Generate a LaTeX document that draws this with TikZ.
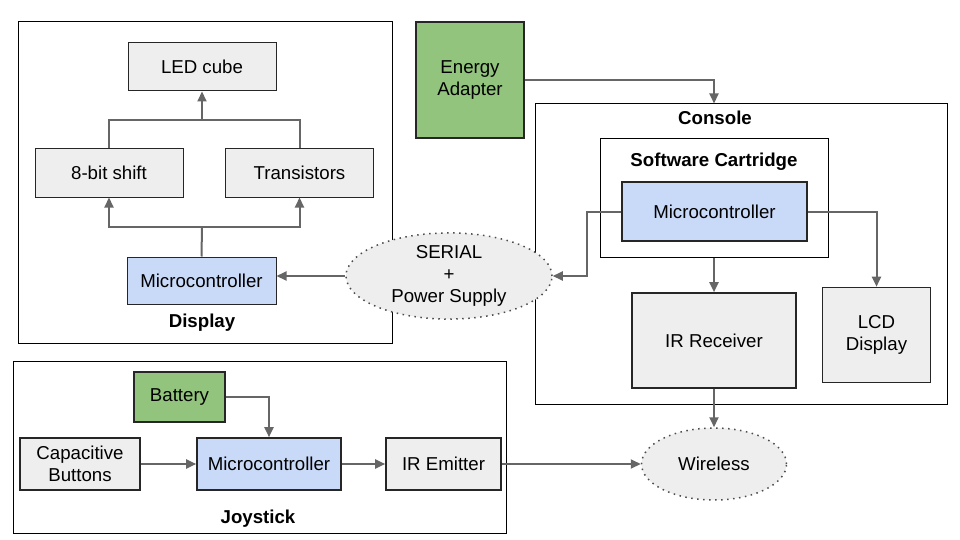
\documentclass[tikz,border=0pt]{standalone}
\usepackage{fontspec}
\setmainfont{Liberation Sans}
\usepackage{xcolor}
\usepackage{tikz}
\usetikzlibrary{arrows.meta,shapes.geometric,positioning}

\definecolor{partgray}{HTML}{EEEEEE}
\definecolor{mcublue}{HTML}{C9DAF8}
\definecolor{powergreen}{HTML}{93C47D}
\definecolor{wiregray}{HTML}{666666}

\tikzset{
  every node/.style = {font = \fontsize{18.67}{22}\selectfont},
  part/.style = {draw = black!85, line width = 1.6pt, fill = partgray, inner sep = 0pt, align = center},
  thinpart/.style = {part, line width = 1pt},
  group/.style = {draw = black, line width = 1pt, inner sep = 0pt},
  grouplabel/.style = {font = \fontsize{18.67}{22}\selectfont\bfseries},
  cloud/.style = {ellipse, draw = black!70, line width = 1.5pt, dash pattern = on 1.5pt off 4.5pt, fill = partgray, inner sep = 0pt, align = center},
  bus/.style = {draw = wiregray, line width = 2pt},
  wire/.style = {bus, -{Triangle[length = 10pt, width = 9pt]}},
}

\begin{document}
\begin{tikzpicture}[x = 1pt, y = -1pt]
    \useasboundingbox (0,0) rectangle (960,540);

    % display
    \node[group, minimum width = 374, minimum height = 321](display) at (205,182.5) {};
    \node[thinpart, minimum width = 148, minimum height = 48](led) at (202,67) {LED cube};
    \node[thinpart, minimum width = 148, minimum height = 48](shift) at (109,173) {8-bit shift};
    \node[thinpart, minimum width = 148, minimum height = 48](trans) at (299.5,173) {Transistors};
    \node[thinpart, fill = mcublue, minimum width = 149, minimum height = 47](dmcu) at (201.5,280.5) {Microcontroller};
    \node[grouplabel](displayLabel) at (202,323) {Display};

    % console
    \node[part, fill = powergreen, minimum width = 108, minimum height = 116](energy) at (470,80) {Energy\\Adapter};
    \node[group, minimum width = 412, minimum height = 300](console) at (741,254) {};
    \node[grouplabel](consoleLabel) at (715,118) {Console};
    \node[group, minimum width = 228, minimum height = 118](cart) at (714,198) {};
    \node[grouplabel](cartLabel) at (714,162) {Software Cartridge};
    \node[part, fill = mcublue, minimum width = 185, minimum height = 59](cmcu) at (714.5,211.5) {Microcontroller};
    \node[part, minimum width = 164, minimum height = 95](irrx) at (714,340.5) {IR Receiver};
    \node[part, minimum width = 108, minimum height = 95](lcd) at (876.5,335) {LCD\\Display};

    % links
    \node[cloud, minimum width = 206, minimum height = 82](serial) at (449,276) {SERIAL\\+\\Power Supply};
    \node[cloud, minimum width = 145, minimum height = 72](wireless) at (714,464) {Wireless};

    % joystick
    \node[group, minimum width = 493, minimum height = 172](joystick) at (259.5,447) {};
    \node[part, fill = powergreen, minimum width = 91, minimum height = 50](battery) at (179.5,397) {Battery};
    \node[part, minimum width = 120, minimum height = 52](caps) at (80,464) {Capacitive\\Buttons};
    \node[part, fill = mcublue, minimum width = 144, minimum height = 52](jmcu) at (269,464) {Microcontroller};
    \node[part, minimum width = 115, minimum height = 52](iremit) at (443.5,464) {IR Emitter};
    \node[grouplabel](joystickLabel) at (258,519) {Joystick};

    % display wiring
    \coordinate (topbus) at (202,120);
    \coordinate (lowbus) at (202,227);
    \draw [bus] (shift.north) |- (topbus) -| (trans.north);
    \draw [wire] (topbus) -- (led.south);
    \draw [bus] (dmcu.north) -- (lowbus);
    \draw [wire] (lowbus) -| (shift.south);
    \draw [wire] (lowbus) -| (trans.south);
    \draw [wire] (serial.west) -- (serial.west -| dmcu.east);

    % console wiring
    \draw [wire] (energy.east) -| (cart.north |- console.north);
    \draw [wire] (cmcu.west) -- ++(-34,0) |- (serial.east);
    \draw [wire] (cmcu.east) -| (lcd.north);
    \draw [wire] (cart.south) -- (irrx.north);
    \draw [wire] (irrx.south) -- (wireless.north);

    % joystick wiring
    \draw [wire] (battery.east) -| (jmcu.north);
    \draw [wire] (caps.east) -- (jmcu.west);
    \draw [wire] (jmcu.east) -- (iremit.west);
    \draw [wire] (iremit.east) -- (wireless.west);
\end{tikzpicture}
\end{document}
